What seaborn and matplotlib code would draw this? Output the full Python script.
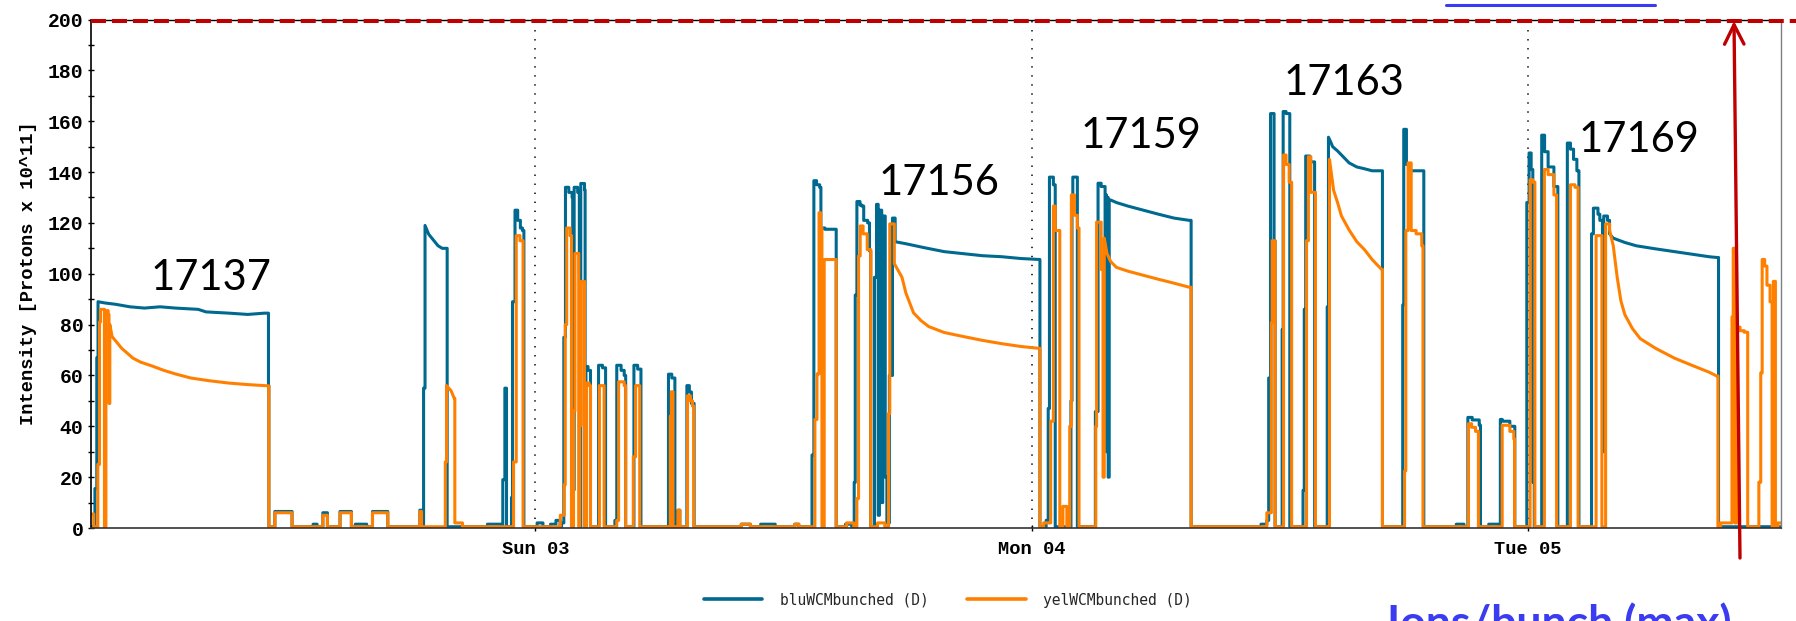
import matplotlib
matplotlib.use('Agg')
import matplotlib.pyplot as plt
import seaborn as sns
import pandas as pd
from matplotlib.lines import Line2D
from matplotlib.patches import FancyArrowPatch
from matplotlib.ticker import MultipleLocator

# ---------------- data (hours relative to Sun 03 00:00) ----------------
# each (t, v) point: value v starting at time t (step), unless t lies inside a
# "ramp" span, where the trace slopes linearly from the previous point.
blue_t = [-21.48, -21.29, -21.20, -21.14, -20.80, -20.30, -19.60, -18.90, -18.14, -17.40, -16.30, -15.92,
          -14.80, -13.90, -13.10, -12.90, -12.88,
          -12.59, -11.76, -10.74, -10.55, -10.27, -10.05, -9.44, -8.89, -8.70, -8.15, -7.87, -7.13,
          -5.58, -5.50, -5.40, -5.33, -5.15, -4.90, -4.70, -4.50, -4.26,
          -2.31, -1.66, -1.57, -1.47, -1.39, -1.15, -1.10, -0.98, -0.85, -0.72, -0.62, -0.55,
          0.09, 0.37, 0.74, 1.00, 1.20, 1.27, 1.38, 1.46, 1.62, 1.78, 1.81, 1.88, 2.05, 2.13, 2.18, 2.20, 2.38, 2.41,
          2.45, 2.55, 2.67, 3.06, 3.25, 3.40, 3.85, 3.94, 4.15, 4.30, 4.37, 4.77, 4.95, 5.11,
          6.44, 6.60, 6.75, 6.90, 6.99, 7.33, 7.45, 7.55, 7.68,
          9.96, 10.40, 10.90, 11.60, 12.55, 12.74,
          13.38, 13.47, 13.60, 13.75, 13.81, 14.00, 14.55, 15.00, 15.30,
          15.42, 15.47, 15.55, 15.70, 15.79, 15.88, 16.07, 16.16, 16.22,
          16.40, 16.50, 16.58, 16.64, 16.75, 16.80, 16.92, 17.00, 17.12, 17.27, 17.40, 17.92, 18.84,
          19.77, 20.70, 21.62, 22.55, 23.47, 24.36, 24.40,
          24.70, 24.80, 24.86, 25.05, 25.14, 25.90, 25.95, 25.99, 26.21,
          27.08, 27.21, 27.36, 27.55, 27.58, 27.62, 27.66, 27.70, 27.75, 27.82, 28.10, 28.66, 29.40,
          30.14, 30.88, 31.62, 31.71,
          35.09, 35.37, 35.46, 35.55, 35.72, 35.77, 36.11, 36.16, 36.30, 36.48,
          37.12, 37.18, 37.25, 37.45, 37.68,
          38.29, 38.35, 38.45, 38.55, 38.79, 39.35, 39.72, 40.09, 40.46, 40.96,
          41.94, 41.99, 42.12, 42.22, 42.31, 42.96, 44.53, 44.90, 45.09, 45.30, 45.64, 45.70,
          46.10, 46.57, 46.66, 46.75, 47.12, 47.36,
          47.94, 48.05, 48.15, 48.23, 48.30, 48.66, 48.80, 48.97, 49.25, 49.44,
          49.90, 50.05, 50.20, 50.36, 50.46,
          51.07, 51.16, 51.38, 51.47, 51.60, 51.66, 51.84, 51.94, 52.12, 52.68, 53.23, 54.16,
          55.08, 56.01, 56.75, 57.12, 57.21, 60.23]
blue_v = [0.5, 15.5, 67, 89, 88.5, 88, 87, 86.5, 87, 86.5, 86, 85,
          84.5, 84, 84.5, 56, 0.5,
          6.5, 0.5, 1.5, 0.5, 6, 0.5, 6.5, 0.5, 1.5, 0.5, 6.5, 0.5,
          7, 0.5, 55, 119, 115.5, 113, 111, 110, 0.5,
          1.5, 0.5, 19, 55, 0.5, 12, 89, 125, 121, 118, 117, 0.5,
          2, 0.5, 1.5, 3, 0.5, 2, 75, 134, 132, 130, 15, 134, 132, 100, 0.5, 135.5, 133, 0.5,
          63.5, 62, 0.5, 64, 63, 0.5, 3, 64, 62, 60, 0.5, 64, 62.5, 0.5,
          60.5, 59, 0.5, 7, 0.5, 56, 53.5, 49, 0.5,
          1.5, 0.5, 1.5, 0.5, 1.5, 0.5,
          28.7, 136.6, 135, 134, 118, 117.5, 0.5, 1.5, 0.5,
          17.9, 91.6, 128.4, 127, 126.6, 121, 120, 109, 0.5,
          98.6, 127.3, 5, 125, 10, 122.7, 20, 2, 60, 121.9, 112.6, 111.8, 110.2,
          108.7, 107.9, 107.1, 106.7, 106, 105.6, 0.5,
          3, 47, 138, 135, 0.5, 50, 126.5, 138, 0.5,
          45.8, 135.6, 134.3, 40, 131, 30, 130, 20, 129, 129, 128, 126.6, 125,
          123.4, 121.9, 121, 0.5,
          1.5, 3, 59, 163, 113, 0.5, 78, 163.8, 163, 0.5,
          14.8, 86, 146.3, 144, 0.5,
          87, 153.7, 152, 150, 148.3, 143.6, 142, 141.3, 140.5, 0.5,
          87.7, 156.8, 143, 142, 140.5, 0.5, 1.5, 0.5, 43.5, 42.5, 40.4, 0.5,
          1.5, 0.5, 42.7, 42, 40, 0.5,
          128, 147.5, 141, 18, 0.5, 154.5, 148, 142, 134.3, 0.5,
          151.4, 149, 145, 140.5, 0.5,
          115.7, 125.8, 123.4, 121, 30, 122.7, 121, 115.7, 114, 112.3, 111, 109.8,
          108.7, 107.6, 106.7, 106.4, 0.5, 0.5]
blue_ramps = [(-20.80, -13.10), (-5.15, -4.50), (17.92, 24.36), (27.82, 31.62),
              (38.45, 40.46), (52.12, 57.12)]

orange_t = [-21.48, -21.35, -21.15, -21.07, -21.02, -20.83, -20.76, -20.65, -20.61, -20.57, -20.46,
            -20.00, -19.45, -19.07, -18.52, -17.96, -17.40, -16.66, -15.74, -14.81, -13.89, -12.96, -12.88,
            -12.59, -11.76, -10.27, -10.05, -9.44, -8.89, -7.87, -7.13, -5.58, -5.50,
            -4.35, -4.29, -4.07, -3.92, -3.89, -3.52, -1.05, -0.92, -0.74, -0.59,
            1.21, 1.40, 1.45, 1.52, 1.68, 1.75, 1.85, 1.92, 2.10, 2.15, 2.22, 2.38,
            2.47, 2.60, 2.67, 3.10, 3.33, 3.94, 4.03, 4.30, 4.37, 4.74, 4.85, 5.05,
            6.53, 6.58, 6.66, 6.90, 6.99, 7.36, 7.50, 7.60, 7.66,
            9.96, 10.40, 12.55, 12.74,
            13.52, 13.62, 13.72, 13.80, 13.86, 13.97, 14.55, 15.05, 15.40,
            15.55, 15.63, 15.71, 15.85, 16.05, 16.22, 16.55, 16.90,
            17.08, 17.14, 17.36, 17.73, 17.92, 18.29, 18.66, 19.03, 19.77, 20.70, 21.62, 22.55, 23.47, 24.31, 24.40,
            24.58, 24.92, 25.05, 25.14, 25.36, 25.51, 25.70, 25.84, 25.92, 26.07, 26.21, 26.29,
            27.10, 27.14, 27.36, 27.45, 27.51, 27.64, 27.82, 28.10, 28.66, 29.40, 30.14, 30.88, 31.62, 31.71,
            35.37, 35.59, 35.63, 35.77, 36.18, 36.30, 36.45, 36.57, 37.29, 37.38, 37.50, 37.72,
            38.40, 38.60, 38.79, 38.98, 39.35, 39.72, 40.09, 40.46, 40.92, 40.96,
            42.03, 42.09, 42.20, 42.35, 42.59, 42.86, 42.92,
            45.12, 45.27, 45.46, 45.60, 46.75, 47.12, 47.31, 47.35,
            48.10, 48.23, 48.33, 48.79, 48.97, 49.25, 49.38, 50.05, 50.27, 50.42,
            51.29, 51.57, 51.75, 51.94, 52.12, 52.31, 52.49, 52.68, 53.05, 53.42, 54.16, 55.08, 56.01,
            56.75, 57.12, 57.18, 57.31, 57.86, 57.92, 58.00, 58.10, 58.25, 58.45, 58.62,
            59.16, 59.25, 59.32, 59.44, 59.55, 59.70, 59.80, 59.86, 59.96, 60.08, 60.23]
orange_v = [5.5, 0.5, 25, 81, 86, 0.5, 85.5, 84, 49, 80, 75.3,
            70.7, 66.8, 65.2, 63.7, 62, 60.6, 59, 57.9, 57, 56.4, 55.9, 0.5,
            6, 0.5, 5, 0.5, 6, 0.5, 6, 0.5, 6.5, 0.5,
            26, 56, 54, 51, 2, 0.5, 26, 115, 113, 0.5,
            5, 17, 80, 118, 115, 0.5, 46, 108, 0.5, 40.3, 97, 0.5,
            57, 56, 0.5, 56, 0.5, 3, 57.5, 56, 0.5, 28, 56, 0.5,
            44, 53.6, 0.5, 7, 0.5, 52, 50, 48, 0.5,
            1.5, 0.5, 1.5, 0.5,
            42.7, 60.6, 124, 118, 0.5, 105.6, 0.5, 2, 0.5,
            11.6, 107, 118.8, 115.7, 109.5, 0.5, 2, 0.5,
            45, 119.6, 104, 98.6, 92.4, 84.6, 81.5, 79.2, 76.9, 75.3, 73.8, 72.5, 71.4, 70.7, 0.5,
            2, 42, 126.6, 117, 0.5, 8.5, 0.5, 40, 131, 123, 118, 0.5,
            40, 120.3, 101.7, 20, 114, 108, 104.8, 102.5, 101, 99.4, 97.8, 96.3, 94.7, 0.5,
            6, 80.7, 113, 0.5, 146.7, 143, 136, 0.5, 113, 146, 132, 0.5,
            145, 132.8, 128, 122.7, 117.2, 112.6, 109.5, 105.6, 101.7, 0.5,
            22.5, 117, 143.6, 117, 115.7, 111, 0.5,
            41, 39.6, 38, 0.5, 40.4, 38, 35, 0.5,
            137, 136, 0.5, 141, 139, 131, 0.5, 135, 134, 0.5,
            115, 0.5, 119.6, 117.2, 111, 98.6, 89.3, 83.9, 78.4, 74.5, 70.7, 66.8, 63.7,
            61.3, 59.8, 0.5, 2, 83, 110, 2, 79, 77.6, 77, 0.5,
            18, 61, 105.6, 103, 95.5, 89, 0.5, 97, 0.5, 2, 2]
orange_ramps = [(-20.46, -12.96), (-4.07, -3.92), (17.73, 24.31), (27.64, 31.62),
                (38.60, 40.92), (52.12, 57.12)]

day_ticks = [0, 24, 48]
day_labels = ['Sun 03', 'Mon 04', 'Tue 05']
fill_labels = ['17137', '17156', '17159', '17163', '17169']
fill_x = [-15.67, 19.54, 29.27, 39.08, 53.37]
fill_y = [93.6, 131.0, 149.5, 170.3, 147.9]
series_names = ['bluWCMbunched (D)', 'yelWCMbunched (D)']

assert len(blue_t) == len(blue_v)
assert len(orange_t) == len(orange_v)


def trace_vertices(ts, vs, ramps):
    """Turn step/ramp breakpoints into polyline vertices."""
    xs, ys = [ts[0]], [vs[0]]
    for i in range(1, len(ts)):
        on_ramp = any(a - 1e-9 <= ts[i] <= b + 1e-9 for a, b in ramps)
        if not on_ramp:
            xs.append(ts[i])
            ys.append(vs[i - 1])
        xs.append(ts[i])
        ys.append(vs[i])
    return xs, ys


BLUE = '#00698f'
ORANGE = '#ff8000'
RED = '#c00000'

sns.set_theme(style='white')
plt.rcParams['lines.scale_dashes'] = False
plt.rcParams['font.family'] = ['Liberation Mono', 'DejaVu Sans Mono']
plt.rcParams['font.weight'] = 'bold'

W, H = 1796, 621
fig = plt.figure(figsize=(W / 100, H / 100), dpi=100, facecolor='white')
ax = fig.add_axes([91 / W, 1 - 528 / H, (1781 - 91) / W, (528 - 19.5) / H])
ax.set_facecolor('white')

bx, by = trace_vertices(blue_t, blue_v, blue_ramps)
ox, oy = trace_vertices(orange_t, orange_v, orange_ramps)
df_b = pd.DataFrame({'t': bx, 'v': by})
df_o = pd.DataFrame({'t': ox, 'v': oy})
sns.lineplot(data=df_b, x='t', y='v', ax=ax, color=BLUE, linewidth=2.2,
             estimator=None, sort=False, legend=False)
sns.lineplot(data=df_o, x='t', y='v', ax=ax, color=ORANGE, linewidth=2.2,
             estimator=None, sort=False, legend=False)

for d in day_ticks:
    ax.axvline(d, color='#222222', lw=1.3, dashes=(1.0, 5.5), zorder=0.5)

ax.set_xlim(-21.48, 60.23)
ax.set_ylim(0, 200)
ax.set_xlabel('')
ax.set_ylabel('')
ax.set_yticks(list(range(0, 201, 20)))
ax.yaxis.set_minor_locator(MultipleLocator(10))
ax.set_xticks(day_ticks)
ax.set_xticklabels(day_labels)
ax.tick_params(axis='y', which='both', direction='inout', length=5, width=1,
               pad=3, colors='black', labelsize=14.2, left=True)
ax.tick_params(axis='x', which='both', direction='inout', length=5, width=1,
               pad=6.5, colors='black', labelsize=13.5, bottom=True)
for lbl in ax.get_xticklabels() + ax.get_yticklabels():
    lbl.set_fontweight('bold')
    lbl.set_family('Liberation Mono')

for side, col, lw in [('top', 'black', 1.0), ('right', '#7f7f7f', 1.0),
                      ('left', 'black', 1.2), ('bottom', '#333333', 1.2)]:
    ax.spines[side].set_visible(True)
    ax.spines[side].set_color(col)
    ax.spines[side].set_linewidth(lw)

for txt, x, y in zip(fill_labels, fill_x, fill_y):
    ax.text(x, y, txt, ha='center', va='baseline', fontsize=30,
            family='Lato', fontweight='normal', color='black')

fig.text(28.7 / W, 1 - 273.5 / H, 'Intensity [Protons x 10^11]', rotation=90,
         ha='center', va='center', family='Liberation Mono', fontweight='bold',
         fontsize=13.5, color='black')

handles = [Line2D([], [], color=BLUE, lw=2.6), Line2D([], [], color=ORANGE, lw=2.6)]
fig.legend(handles, series_names, loc='center', bbox_to_anchor=(948 / W, 1 - 600 / H),
           ncol=2, frameon=False,
           prop={'family': 'DejaVu Sans Mono', 'size': 10.5, 'weight': 'normal'},
           handlelength=3.98, handletextpad=1.2, columnspacing=2.67)

# red dashed max line
fig.add_artist(Line2D([91 / W, 1.0], [1 - 20.7 / H] * 2, transform=fig.transFigure,
                      color=RED, lw=2.9, dashes=(10.8, 4.3)))
# red arrow
fig.add_artist(FancyArrowPatch(posA=(1740 / W, 1 - 558 / H), posB=(1734 / W, 1 - 21 / H),
                               transform=fig.transFigure,
                               arrowstyle='->,head_length=1.0,head_width=0.5',
                               mutation_scale=14, color=RED, lw=2.4,
                               shrinkA=0, shrinkB=0))
# blue underline at the top and cut-off label at the bottom
fig.add_artist(Line2D([1446 / W, 1655 / W], [1 - 5 / H] * 2, transform=fig.transFigure,
                      color='#3a3af2', lw=2.2))
fig.text(1387 / W, 1 - 637 / H, 'Ions/bunch (max)', ha='left', va='baseline',
         fontsize=32, family='Lato', fontweight='bold', color='#3b3bef')

fig.savefig('out.png', dpi=100, facecolor='white')
